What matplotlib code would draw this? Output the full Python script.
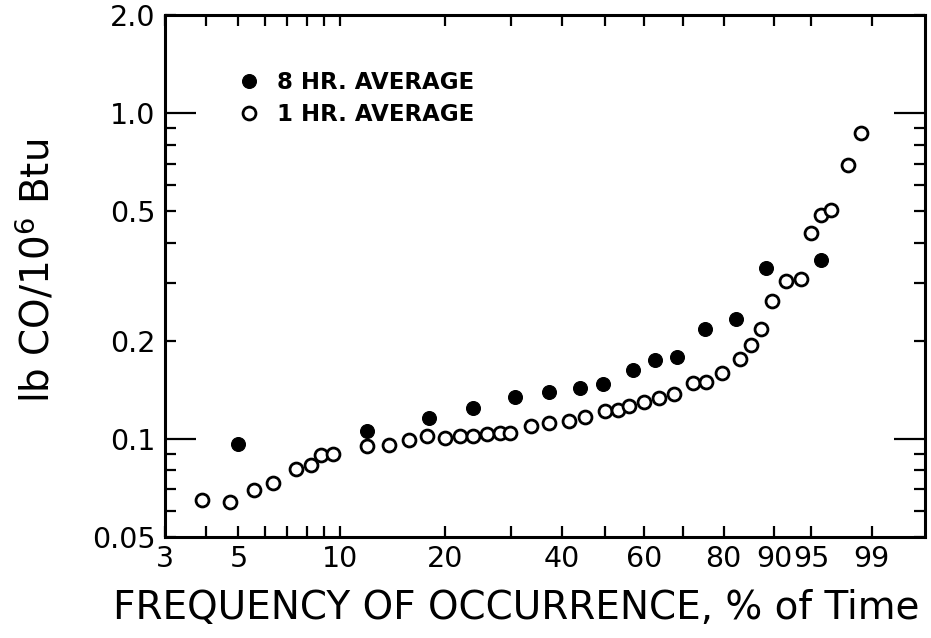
import numpy as np
import matplotlib
matplotlib.use('Agg')
import matplotlib.pyplot as plt
from matplotlib.ticker import FixedLocator, FixedFormatter, FuncFormatter

# frequency of occurrence (% of time) and emission (lb CO / 10^6 Btu)
freq_8hr = [5.0, 12.0, 18.0, 23.8, 30.6, 37.2, 44.0, 49.5, 57.1, 62.7, 68.4,
            75.5, 82.8, 88.7, 96.0]
co_8hr = [0.0966, 0.106, 0.1157, 0.1241, 0.1341, 0.1392, 0.1429, 0.1473,
          0.1627, 0.1748, 0.1778, 0.2181, 0.2338, 0.3341, 0.3546]

freq_1hr = [3.88, 4.72, 5.57, 6.34, 7.41, 8.23, 8.79, 9.53, 11.97, 13.9,
            15.8, 17.8, 19.9, 21.9, 23.8, 25.9, 28.0, 29.8, 33.7, 37.2,
            41.6, 45.1, 49.9, 53.3, 56.1, 59.9, 63.8, 67.7, 72.5, 75.8,
            79.7, 83.5, 85.8, 87.7, 89.6, 91.9, 93.9, 95.0, 96.0, 96.85,
            97.96, 98.61]
co_1hr = [0.0648, 0.0640, 0.0695, 0.0732, 0.0810, 0.0829, 0.0894, 0.0900,
          0.0950, 0.0959, 0.0995, 0.1019, 0.1005, 0.102, 0.102, 0.1036,
          0.1043, 0.1043, 0.1094, 0.1119, 0.1137, 0.1165, 0.1215, 0.1229,
          0.1259, 0.1295, 0.1335, 0.1373, 0.1483, 0.149, 0.159, 0.1765,
          0.194, 0.2169, 0.2652, 0.3049, 0.31, 0.4287, 0.4876, 0.505,
          0.693, 0.871]

x_major = [3, 5, 10, 20, 40, 60, 80, 90, 95, 99]
x_minor = [4, 6, 7, 8, 9, 30, 50, 70]
y_major = [0.1, 1.0]
y_minor = [0.05, 0.06, 0.07, 0.08, 0.09, 0.2, 0.3, 0.4, 0.5, 0.6, 0.7, 0.8,
           0.9, 2.0]
y_minor_labels = {0.05: '0.05', 0.2: '0.2', 0.5: '0.5', 2.0: '2.0'}


# Weibull probability scale for the x axis
def fwd(p):
    p = np.clip(np.asarray(p, dtype=float), 1e-6, 100 - 1e-6)
    return np.log(-np.log(1 - p / 100.0))


def inv(w):
    return 100.0 * (1 - np.exp(-np.exp(np.asarray(w, dtype=float))))


plt.rcParams['font.family'] = ['DejaVu Sans']
fig = plt.figure(figsize=(9.31, 6.38), dpi=100)
ax = fig.add_axes([165 / 931, 101 / 638, 760 / 931, 522 / 638])

ax.plot(freq_8hr, co_8hr, linestyle='none', marker='o', markersize=10,
        markerfacecolor='black', markeredgecolor='black', markeredgewidth=0.8,
        label='8 HR. AVERAGE')
ax.plot(freq_1hr, co_1hr, linestyle='none', marker='o', markersize=9.3,
        markerfacecolor='white', markeredgecolor='black', markeredgewidth=2.0,
        label='1 HR. AVERAGE')

ax.set_xscale('function', functions=(fwd, inv))
ax.set_yscale('log')
ax.set_xlim(3, 99.88)
ax.set_ylim(0.05, 2.0)

ax.xaxis.set_major_locator(FixedLocator(x_major))
ax.xaxis.set_major_formatter(FixedFormatter([str(v) for v in x_major]))
ax.xaxis.set_minor_locator(FixedLocator(x_minor))
ax.xaxis.set_minor_formatter(FuncFormatter(lambda v, pos: ''))

ax.yaxis.set_major_locator(FixedLocator(y_major))
ax.yaxis.set_major_formatter(FixedFormatter(['0.1', '1.0']))
ax.yaxis.set_minor_locator(FixedLocator(y_minor))
ax.yaxis.set_minor_formatter(FuncFormatter(
    lambda v, pos: y_minor_labels.get(round(v, 3), '')))

ax.tick_params(which='both', direction='in', top=True, right=True,
               width=1.6, labelsize=20.5, color='black')
ax.tick_params(axis='x', which='both', length=8, pad=6)
ax.tick_params(axis='y', which='major', length=22, pad=7)
ax.tick_params(axis='y', which='minor', length=8, pad=7)

for s in ax.spines.values():
    s.set_linewidth(2.2)

ax.set_xlabel('FREQUENCY OF OCCURRENCE, % of Time', fontsize=28)
ax.set_ylabel('lb CO/10$^6$ Btu', fontsize=28)
ax.xaxis.set_label_coords(0.462, -0.10)
ax.yaxis.set_label_coords(-0.142, 0.51)

ax.legend(loc='upper left', bbox_to_anchor=(0.095, 0.893), frameon=False,
          prop={'weight': 'bold', 'size': 16.5}, handlelength=1.0,
          handletextpad=0.75, labelspacing=0.4, borderpad=0, borderaxespad=0)

plt.savefig('out.png', dpi=100)
